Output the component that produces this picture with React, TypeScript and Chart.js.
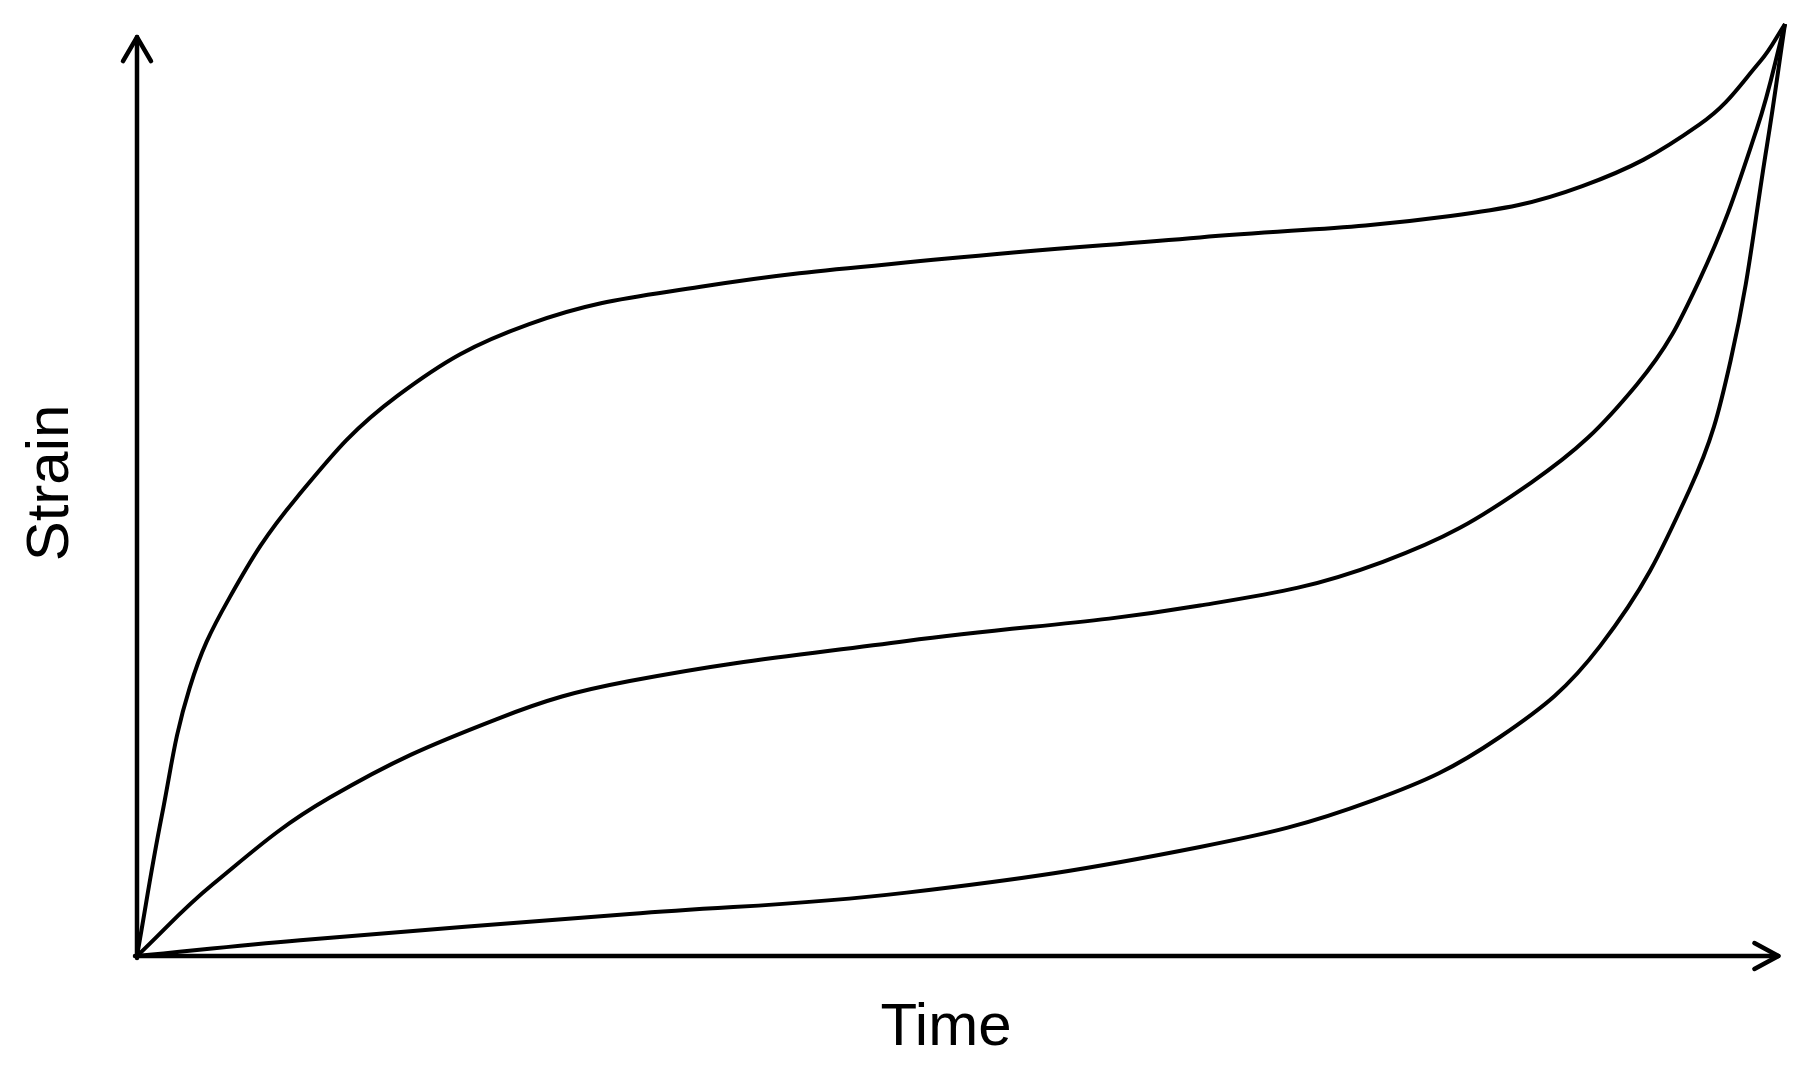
import React, { useEffect, useRef } from "react";
import { Chart, registerables } from "chart.js";

Chart.register(...registerables);

// Strain vs time: three creep curves (time 0..100, strain 0..100, arbitrary units)
const upperTime = [0, 1.5, 3.2, 5.6, 9.7, 15.8, 23.8, 34.2, 49.0, 64.5, 79.7, 87.7, 94.8, 98.5, 100];
const upperStrain = [0, 15.0, 28.8, 38.4, 49.2, 60.1, 67.8, 71.8, 74.8, 77.1, 79.4, 82.6, 89.2, 96.0, 100];

const middleTime = [0, 4.6, 11.7, 21.8, 29.9, 46.7, 64.5, 75.6, 84.6, 91.0, 94.8, 98.3, 100];
const middleStrain = [0, 7.7, 17.0, 25.4, 29.5, 33.8, 37.6, 42.3, 50.8, 61.3, 72.5, 88.8, 100];

const lowerTime = [0, 9.9, 29.9, 46.7, 64.5, 75.0, 82.7, 88.8, 94.2, 96.7, 98.9, 100];
const lowerStrain = [0, 1.7, 4.5, 6.8, 11.7, 16.7, 23.5, 33.3, 50.0, 63.9, 86.9, 100];

// axis arrow extents (data units)
const xAxisEnd = 99.6;
const yAxisEnd = 98.6;
const xLabel = "Time";
const yLabel = "Strain";

const toPoints = (xs: number[], ys: number[]) => xs.map((x, i) => ({ x, y: ys[i] }));

const axesPlugin = {
  id: "arrowAxes",
  afterDatasetsDraw(chart: any) {
    const { ctx, scales } = chart;
    const xs = scales.x;
    const ys = scales.y;
    const ox = xs.getPixelForValue(0);
    const oy = ys.getPixelForValue(0);
    const xe = xs.getPixelForValue(xAxisEnd);
    const ye = ys.getPixelForValue(yAxisEnd);
    ctx.save();
    ctx.strokeStyle = "#000";
    ctx.lineWidth = 4.5;
    ctx.lineCap = "round";
    ctx.lineJoin = "round";
    // y axis
    ctx.beginPath();
    ctx.moveTo(ox, oy + 2);
    ctx.lineTo(ox, ye);
    ctx.stroke();
    ctx.beginPath();
    ctx.moveTo(ox - 14, ye + 24);
    ctx.lineTo(ox, ye);
    ctx.lineTo(ox + 14, ye + 24);
    ctx.stroke();
    // x axis
    ctx.beginPath();
    ctx.moveTo(ox - 2, oy);
    ctx.lineTo(xe, oy);
    ctx.stroke();
    ctx.beginPath();
    ctx.moveTo(xe - 24, oy - 13);
    ctx.lineTo(xe, oy);
    ctx.lineTo(xe - 24, oy + 13);
    ctx.stroke();
    // labels
    ctx.fillStyle = "#000";
    ctx.font = '60px "Liberation Sans", Arial, sans-serif';
    ctx.textAlign = "center";
    ctx.textBaseline = "alphabetic";
    ctx.fillText(xLabel, 946, 1045);
    ctx.translate(68, 483);
    ctx.rotate(-Math.PI / 2);
    ctx.fillText(yLabel, 0, 0);
    ctx.restore();
  },
};

export default function App() {
  const ref = useRef<HTMLCanvasElement | null>(null);
  useEffect(() => {
    if (!ref.current) return;
    const mk = (xs: number[], ys: number[]) => ({
      data: toPoints(xs, ys),
      borderColor: "#000",
      borderWidth: 4,
      pointRadius: 0,
      fill: false,
      tension: 0.4,
      borderJoinStyle: "round" as const,
      clip: false as any,
    });
    const chart = new Chart(ref.current, {
      type: "line",
      data: {
        datasets: [
          mk(upperTime, upperStrain),
          mk(middleTime, middleStrain),
          mk(lowerTime, lowerStrain),
        ],
      },
      options: {
        animation: false,
        responsive: false,
        maintainAspectRatio: false,
        layout: { padding: { left: 137, right: 32, top: 24, bottom: 114 } },
        plugins: { legend: { display: false }, tooltip: { enabled: false } },
        scales: {
          x: { type: "linear", min: 0, max: 100, display: false },
          y: { type: "linear", min: 0, max: 100, display: false },
        },
      },
      plugins: [axesPlugin],
    });
    return () => chart.destroy();
  }, []);
  return (
    <div style={{ position: "fixed", left: 0, top: 0, width: 1817, height: 1070, background: "#fff" }}>
      <canvas ref={ref} width={1817} height={1070} style={{ display: "block", width: 1817, height: 1070 }} />
    </div>
  );
}
